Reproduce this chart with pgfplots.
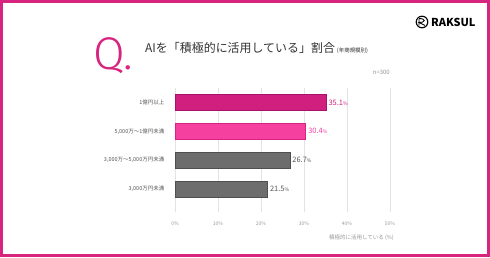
\documentclass[border=0pt]{standalone}
\usepackage{fontspec}
\setmainfont{Noto Sans CJK JP}
\newfontfamily\qfont{Fira Sans Light}
\usepackage{pgfplots}
\pgfplotsset{compat=1.18}

\definecolor{rkpink}{HTML}{D6247F}
\definecolor{barA}{HTML}{D11F7F}
\definecolor{barAedge}{HTML}{A8126A}
\definecolor{barB}{HTML}{F540A0}
\definecolor{barBedge}{HTML}{D62484}
\definecolor{barC}{HTML}{6D6D6D}
\definecolor{barCedge}{HTML}{4F4F4F}
\definecolor{txt}{HTML}{333333}
\definecolor{lbl}{HTML}{555555}
\definecolor{ticktxt}{HTML}{9A9A9A}
\definecolor{gridc}{HTML}{E3E3E3}

\newcommand{\vallabel}{{\fontsize{7.5}{8}\selectfont\pgfmathprintnumber[fixed,fixed zerofill,precision=1,assume math mode=true]{\pgfplotspointmeta}}{\fontsize{5}{5}\selectfont\%}}

\begin{document}
\begin{tikzpicture}[x=1bp,y=1bp]
\useasboundingbox (0,0) rectangle (490,257);
\fill[white] (0,0) rectangle (490,257);
\draw[rkpink, line width=3bp] (1.5,1.5) rectangle (488.5,255.5);

% heading
\node[anchor=base west, text=rkpink, font=\qfont\fontsize{46}{46}\selectfont, inner sep=0] at (93,188) {Q.};
\node[anchor=base west, inner sep=0, text=txt, font=\fontsize{12}{13}\selectfont] at (145,205)
  {AIを「積極的に活用している」割合\,{\fontsize{5.5}{6}\selectfont (年商規模別)}};
\node[anchor=base east, inner sep=0, text=ticktxt, font=\fontsize{6}{6}\selectfont] at (390,183) {n=300};

% logo
\draw[black, line width=1.1bp] (422,235) circle (5.8);
\draw[black, line width=0.9bp] (419,231.5) -- (419,238.5) (419,238.5) .. controls (426,238.5) and (426,234.5) .. (419,234.5) -- (425,231.5);
\node[anchor=west, inner sep=0, font=\fontsize{11}{11}\selectfont\bfseries] at (431,235) {RAKSUL};

\begin{axis}[
  at={(175bp,45bp)}, anchor=south west,
  scale only axis, width=215bp, height=124bp,
  xbar, bar width=16bp, bar shift=0pt,
  xmin=0, xmax=50, ymin=-0.5, ymax=3.8, y dir=reverse,
  xtick={0,10,20,30,40,50},
  xticklabels={0\%,10\%,20\%,30\%,40\%,50\%},
  ytick={0,1,2,3},
  yticklabels={{1億円以上},{5,000万〜1億円未満},{3,000万〜5,000万円未満},{3,000万円未満}},
  xmajorgrids, grid style={gridc, line width=0.6bp},
  axis line style={draw=none}, major tick style={draw=none},
  xticklabel style={font=\fontsize{5}{5}\selectfont, text=ticktxt, yshift=-6bp},
  yticklabel style={font=\fontsize{5.5}{6}\selectfont, text=lbl, xshift=-3bp},
  xlabel={積極的に活用している (\%)},
  xlabel style={at={(rel axis cs:1,0)}, anchor=north east, yshift=-23bp, xshift=4bp,
    font=\fontsize{5.5}{6}\selectfont, text=ticktxt, inner sep=0},
  point meta=x,
  nodes near coords={\vallabel},
  nodes near coords align={horizontal},
  every node near coord/.append style={xshift=-1bp},
]
\addplot[fill=barA, draw=barAedge, line width=0.6bp, every node near coord/.append style={text=barA}] coordinates {(35.1,0)};
\addplot[fill=barB, draw=barBedge, line width=0.6bp, every node near coord/.append style={text=barB}] coordinates {(30.4,1)};
\addplot[fill=barC, draw=barCedge, line width=0.6bp, every node near coord/.append style={text=lbl}] coordinates {(26.7,2)};
\addplot[fill=barC, draw=barCedge, line width=0.6bp, every node near coord/.append style={text=lbl}] coordinates {(21.5,3)};
\end{axis}
\end{tikzpicture}
\end{document}
